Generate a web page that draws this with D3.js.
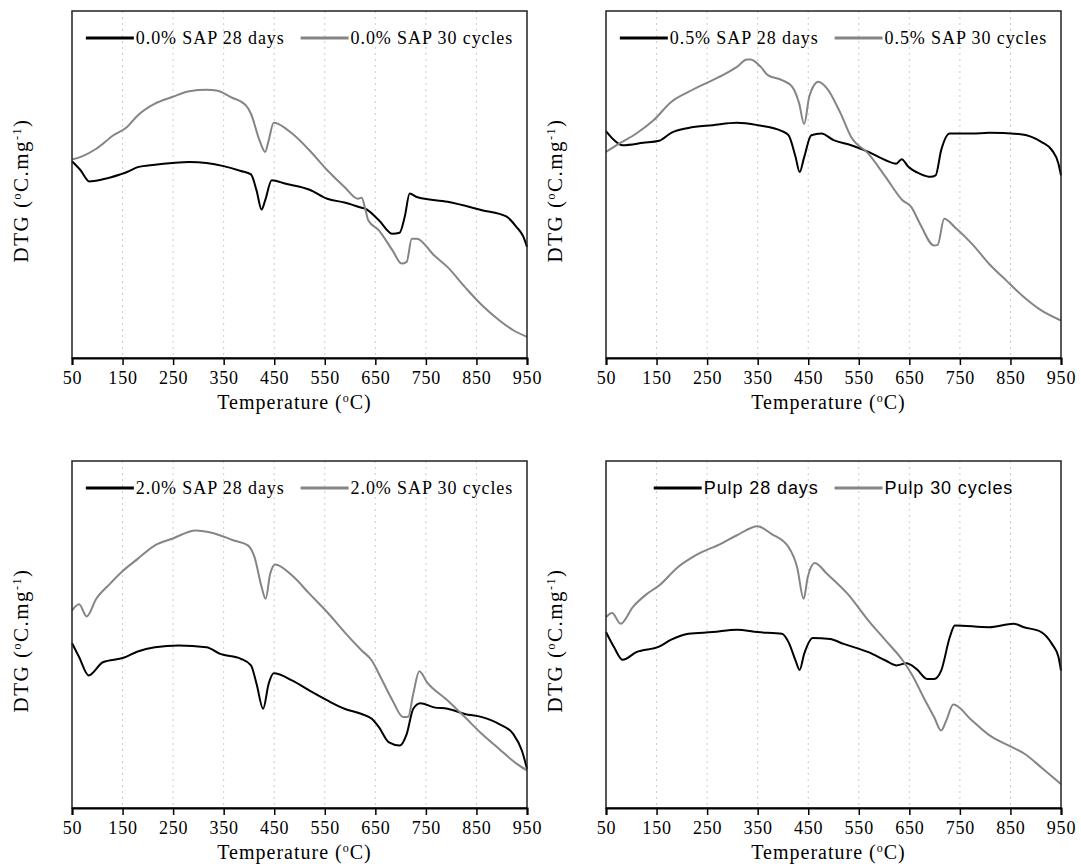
<!DOCTYPE html>
<html>
<head>
<meta charset="utf-8">
<title>DTG curves</title>
<script src="https://cdn.jsdelivr.net/npm/d3@7"></script>
<style>
  body { margin: 0; background: #fff; }
  svg text { font-family: "Liberation Serif", "Times New Roman", serif; fill: #000; }
</style>
</head>
<body>
<script>
// temperature ticks on every panel
var xTicks = [50, 150, 250, 350, 450, 550, 650, 750, 850, 950];

// DTG readings, [temperature, relative DTG 0..100] (y axis has no scale in the source)
var sap00Days = [[50,56.7],[67,54.1],[84,50.9],[111,51.5],[145,52.9],[159,53.6],[180,55.0],[214,55.7],[248,56.2],[282,56.5],[316,56.2],[350,55.3],[384,53.9],[404,52.9],[415,48.3],[425,42.8],[432,45.4],[445,51.2],[473,50.2],[520,48.5],[555,45.9],[589,44.8],[623,43.3],[630,43.0],[657,39.7],[684,35.8],[698,36.1],[708,40.6],[718,47.4],[732,46.4],[793,45.0],[861,42.6],[909,40.8],[929,37.8],[943,34.9],[950,32.0]];
var sap00Cycles = [[50,57.2],[70,58.1],[98,60.3],[132,64.2],[159,66.6],[180,69.9],[214,73.3],[248,75.2],[282,76.9],[316,77.3],[336,77.1],[364,75.2],[394,72.8],[404,70.4],[421,62.7],[432,59.4],[439,62.7],[449,67.8],[486,64.6],[520,59.8],[555,54.1],[589,49.3],[616,45.9],[623,46.2],[630,43.0],[636,39.7],[657,36.8],[684,31.0],[702,27.2],[712,27.7],[722,34.4],[732,34.4],[766,29.6],[793,26.2],[827,20.5],[861,15.2],[895,10.9],[923,8.0],[950,6.1]];

var sap05Days = [[50,65.4],[66,62.8],[83,61.3],[124,62.0],[155,62.6],[179,64.9],[213,66.3],[261,67.1],[309,67.8],[350,67.1],[398,65.4],[411,64.2],[425,57.9],[433,53.6],[442,57.9],[456,64.2],[476,64.7],[500,62.8],[535,61.3],[569,59.4],[603,57.0],[624,56.0],[635,57.3],[648,55.1],[671,53.1],[692,52.2],[702,52.6],[713,59.9],[730,64.7],[774,64.7],[808,64.9],[870,64.5],[911,62.3],[932,59.9],[945,56.0],[950,52.6]];
var sap05Cycles = [[50,59.4],[76,61.8],[110,64.7],[144,68.5],[179,73.8],[213,76.7],[261,80.1],[281,81.5],[309,83.9],[329,86.0],[336,86.0],[356,83.9],[370,81.5],[398,80.1],[418,78.2],[432,73.4],[442,67.4],[452,75.3],[470,79.6],[487,77.7],[514,70.5],[535,63.7],[569,58.9],[603,52.2],[637,45.4],[654,43.5],[671,38.7],[699,32.4],[706,32.6],[719,40.1],[740,37.7],[774,32.9],[808,27.1],[842,22.3],[877,17.5],[911,13.7],[950,10.8]];

var sap20Days = [[50,47.5],[64,43.5],[83,38.2],[111,42.0],[152,43.3],[180,45.1],[214,46.3],[261,46.8],[316,46.3],[343,44.4],[384,43.0],[404,41.1],[415,35.8],[428,28.6],[439,35.8],[449,38.8],[486,36.7],[520,33.8],[555,31.0],[589,28.6],[623,27.1],[643,25.7],[657,23.3],[677,18.9],[698,18.0],[712,21.3],[725,28.6],[739,30.2],[766,29.0],[793,28.6],[827,27.1],[861,26.2],[895,24.2],[923,21.3],[940,16.5],[950,11.3]];
var sap20Cycles = [[50,56.9],[64,58.7],[79,55.2],[98,60.3],[125,64.6],[152,68.5],[180,71.8],[214,75.7],[248,77.6],[295,80.0],[330,79.2],[370,77.1],[398,75.7],[411,72.3],[425,63.7],[433,60.3],[442,67.5],[452,70.2],[486,66.9],[520,61.7],[555,56.4],[589,50.7],[623,45.4],[643,42.5],[657,38.7],[684,31.0],[705,26.2],[715,26.3],[725,32.9],[737,39.4],[752,36.3],[793,31.0],[827,26.2],[861,21.3],[895,17.0],[930,12.7],[950,10.8]];

var pulpDays = [[50,50.7],[66,46.3],[83,42.7],[110,44.9],[155,46.5],[179,48.5],[213,50.2],[261,50.7],[309,51.4],[350,50.7],[398,50.2],[411,47.8],[425,42.5],[433,39.8],[442,44.4],[459,49.0],[493,48.7],[520,47.3],[569,44.9],[603,42.5],[624,41.1],[644,41.7],[664,40.1],[685,37.2],[699,37.2],[713,39.6],[730,49.2],[740,52.6],[808,52.1],[856,53.1],[877,52.1],[911,50.7],[932,47.3],[945,43.5],[950,39.6]];
var pulpCycles = [[50,55.0],[62,56.2],[79,53.1],[103,57.9],[131,61.7],[155,64.1],[192,69.4],[227,72.8],[278,76.2],[309,78.6],[350,81.2],[377,79.0],[411,75.2],[428,69.4],[441,60.3],[449,66.5],[463,70.6],[487,67.5],[528,61.7],[569,54.0],[603,48.3],[637,42.5],[658,37.7],[678,31.9],[699,26.2],[713,22.3],[723,25.2],[737,29.8],[774,25.2],[808,21.0],[849,17.8],[877,15.7],[911,11.7],[950,6.9]];

var legendNames = [
  ["0.0% SAP 28 days", "0.0% SAP 30 cycles"],
  ["0.5% SAP 28 days", "0.5% SAP 30 cycles"],
  ["2.0% SAP 28 days", "2.0% SAP 30 cycles"],
  ["Pulp 28 days", "Pulp 30 cycles"]
];

var W = 1081, H = 866;
var pw = 455, ph = 347;
var panels = [
  { left: 72,  top: 11,  days: sap00Days, cycles: sap00Cycles, names: legendNames[0], font: "serif" },
  { left: 606, top: 11,  days: sap05Days, cycles: sap05Cycles, names: legendNames[1], font: "serif" },
  { left: 72,  top: 461, days: sap20Days, cycles: sap20Cycles, names: legendNames[2], font: "serif" },
  { left: 606, top: 461, days: pulpDays,  cycles: pulpCycles,  names: legendNames[3], font: "sans" }
];

var svg = d3.select("body").append("svg")
  .attr("width", W).attr("height", H)
  .attr("viewBox", "0 0 " + W + " " + H);

var x = d3.scaleLinear().domain([50, 950]).range([0, pw]);
var y = d3.scaleLinear().domain([0, 100]).range([ph, 0]);

var line = d3.line()
  .curve(d3.curveMonotoneX)
  .x(function(d) { return x(d[0]); })
  .y(function(d) { return y(d[1]); });

panels.forEach(function(p) {
  var g = svg.append("g").attr("transform", "translate(" + p.left + "," + p.top + ")");

  // dotted vertical grid
  g.selectAll("line.grid").data(xTicks.slice(1, -1)).enter().append("line")
    .attr("class", "grid")
    .attr("x1", function(d) { return x(d); }).attr("x2", function(d) { return x(d); })
    .attr("y1", 0).attr("y2", ph)
    .attr("stroke", "#cccccc").attr("stroke-width", 1).attr("stroke-dasharray", "2,4");

  // curves
  g.append("path").datum(p.days)
    .attr("d", line).attr("fill", "none")
    .attr("stroke", "#000").attr("stroke-width", 2).attr("stroke-linejoin", "round");
  g.append("path").datum(p.cycles)
    .attr("d", line).attr("fill", "none")
    .attr("stroke", "#858585").attr("stroke-width", 2).attr("stroke-linejoin", "round");

  // frame
  g.append("rect").attr("x", 0).attr("y", 0).attr("width", pw).attr("height", ph)
    .attr("fill", "none").attr("stroke", "#222").attr("stroke-width", 1.5);

  var ax = g.append("g").attr("transform", "translate(0," + ph + ")")
    .call(d3.axisBottom(x).tickValues(xTicks).tickSize(7).tickPadding(6).tickFormat(d3.format("d")));
  ax.select(".domain").attr("stroke", "#000").attr("stroke-width", 2);
  ax.selectAll(".tick line").attr("stroke", "#000").attr("stroke-width", 1.5);
  ax.selectAll(".tick text")
    .style("font-family", "'Liberation Serif', serif")
    .style("font-size", "18px").style("letter-spacing", "0.8px")
    .attr("fill", "#000");

  // x title
  var xt = g.append("text")
    .attr("x", pw / 2 - 5).attr("y", ph + 51)
    .attr("text-anchor", "middle")
    .style("font-size", "20px").style("letter-spacing", "1px");
  xt.append("tspan").text("Temperature (");
  xt.append("tspan").attr("baseline-shift", "super").style("font-size", "12px").text("o");
  xt.append("tspan").text("C)");

  // y title
  var yt = g.append("text")
    .attr("transform", "translate(-44," + (ph / 2 + 6) + ") rotate(-90)")
    .attr("text-anchor", "middle")
    .style("font-size", "21px").style("letter-spacing", "1.5px");
  yt.append("tspan").text("DTG (");
  yt.append("tspan").attr("baseline-shift", "super").style("font-size", "12px").text("o");
  yt.append("tspan").text("C.mg");
  yt.append("tspan").attr("baseline-shift", "super").style("font-size", "12px").text("-1");
  yt.append("tspan").text(")");

  // legend, centred at the top of the frame
  var fam = p.font === "sans" ? "'Liberation Sans', Arial, sans-serif" : "'Liberation Serif', serif";
  var lg = g.append("g");
  var lx = 0, ly = 27, segW = 48;
  [["#000", p.names[0]], ["#858585", p.names[1]]].forEach(function(item, i) {
    if (i > 0) lx += 16;
    lg.append("line").attr("x1", lx).attr("x2", lx + segW).attr("y1", ly).attr("y2", ly)
      .attr("stroke", item[0]).attr("stroke-width", 3);
    lx += segW + 2;
    var t = lg.append("text").attr("x", lx).attr("y", ly + 6)
      .style("font-family", fam).style("font-size", "18px").style("letter-spacing", "0.9px")
      .text(item[1]);
    lx += t.node().getComputedTextLength();
  });
  lg.attr("transform", "translate(" + ((pw - lx) / 2) + ",0)");
});
</script>
</body>
</html>
